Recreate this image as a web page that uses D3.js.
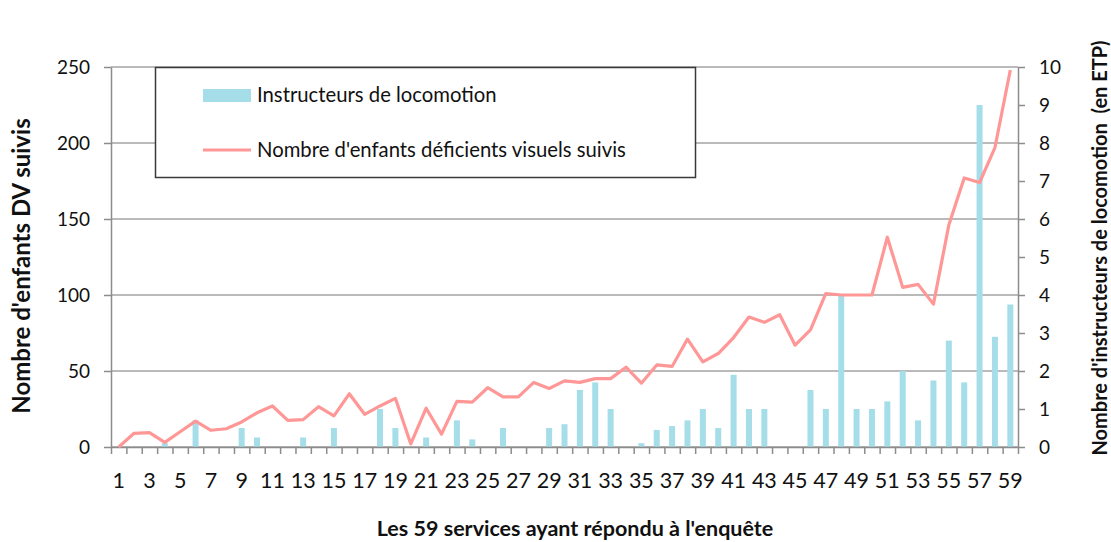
<!DOCTYPE html>
<html>
<meta charset="utf-8">
<head>
	<script src="https://d3js.org/d3.v7.min.js"></script>
	<style>
		body { margin: 0; background: #fff; }
		svg text { font-family: Lato, "Open Sans", sans-serif; fill: #111; }
		.grid line { stroke: #a3a3a3; stroke-width: 1.5px; }
		.axis path, .axis line { stroke: #8c8c8c; stroke-width: 1.5px; }
		.axis text { font-size: 19px; }
		.xlabels text { font-size: 21.5px; }
		.title { font-weight: bold; }
		.legend text { font-size: 20.3px; }
	</style>
</head>
<body>
<script>
	// the 59 services (x categories)
	var services = ["1","2","3","4","5","6","7","8","9","10","11","12","13","14","15","16","17","18","19","20",
		"21","22","23","24","25","26","27","28","29","30","31","32","33","34","35","36","37","38","39","40",
		"41","42","43","44","45","46","47","48","49","50","51","52","53","54","55","56","57","58","59"];

	// Nombre d'enfants DV suivis (left axis, line)
	var enfants = [0, 9, 9.5, 3, 10, 17, 11, 12, 16.5, 22.5,
		27, 17.5, 18, 26.5, 20.5, 35, 21.5, 27, 32, 2,
		25.5, 8.5, 30, 29.5, 39, 33, 33, 42.5, 38.5, 43.5,
		42.5, 45, 45, 52.5, 42, 54, 53, 71, 56, 61.5,
		72, 85.5, 82, 87, 67, 77, 101, 100, 100, 100,
		138, 105, 107, 94, 146, 177, 174, 197, 248];

	// Instructeurs de locomotion en ETP (right axis, bars)
	var instructeurs = [0, 0, 0, 0.1, 0, 0.7, 0, 0, 0.5, 0.25,
		0, 0, 0.25, 0, 0.5, 0, 0, 1, 0.5, 0,
		0.25, 0, 0.7, 0.2, 0, 0.5, 0, 0, 0.5, 0.6,
		1.5, 1.7, 1, 0, 0.1, 0.45, 0.55, 0.7, 1, 0.5,
		1.9, 1, 1, 0, 0, 1.5, 1, 4, 1, 1,
		1.2, 2, 0.7, 1.75, 2.8, 1.7, 9, 2.9, 3.75];

	var leftTicks = [0, 50, 100, 150, 200, 250];
	var rightTicks = [0, 1, 2, 3, 4, 5, 6, 7, 8, 9, 10];

	var width = 1111,
		height = 542;
	var plot = {left: 111, right: 1018, top: 67, bottom: 447};

	var svg = d3.select("body").append("svg")
		.attr("width", width)
		.attr("height", height);

	var x = d3.scaleBand()
		.domain(services)
		.range([plot.left, plot.right]);

	// used only for the tick marks between categories
	var xEdges = d3.scaleLinear()
		.domain([0, services.length])
		.range([plot.left, plot.right]);

	var yLeft = d3.scaleLinear()
		.domain([0, 250])
		.range([plot.bottom, plot.top]);

	var yRight = d3.scaleLinear()
		.domain([0, 10])
		.range([plot.bottom, plot.top]);

	// gridlines
	svg.append("g")
		.attr("class", "grid")
		.selectAll("line")
		.data(leftTicks).enter()
		.append("line")
		.attr("x1", plot.left)
		.attr("x2", plot.right)
		.attr("y1", function(d) { return yLeft(d); })
		.attr("y2", function(d) { return yLeft(d); });

	// bars
	var barW = 6;
	svg.append("g")
		.selectAll("rect")
		.data(instructeurs).enter()
		.append("rect")
		.attr("x", function(d, i) { return x(services[i]) + x.bandwidth() / 2 - barW / 2; })
		.attr("y", function(d) { return yRight(d); })
		.attr("width", barW)
		.attr("height", function(d) { return plot.bottom - yRight(d); })
		.attr("fill", "#a5dde9");

	// left axis
	svg.append("g")
		.attr("class", "axis")
		.attr("transform", "translate(" + plot.left + ",0)")
		.call(d3.axisLeft(yLeft).tickValues(leftTicks).tickSize(7).tickPadding(14).tickSizeOuter(0));

	// right axis
	svg.append("g")
		.attr("class", "axis")
		.attr("transform", "translate(" + plot.right + ",0)")
		.call(d3.axisRight(yRight).tickValues(rightTicks).tickSize(7).tickPadding(14).tickSizeOuter(0));

	// x axis tick marks at category edges
	svg.append("g")
		.attr("class", "axis")
		.attr("transform", "translate(0," + plot.bottom + ")")
		.call(d3.axisBottom(xEdges).tickValues(d3.range(0, services.length + 1))
			.tickSize(7).tickSizeOuter(0).tickFormat(""));

	// x labels, every other service
	var gx = svg.append("g")
		.attr("class", "axis xlabels")
		.attr("transform", "translate(0," + plot.bottom + ")")
		.call(d3.axisBottom(x).tickSize(0).tickPadding(26)
			.tickFormat(function(d, i) { return i % 2 === 0 ? d : ""; }));
	gx.select(".domain").remove();

	// line
	var line = d3.line()
		.x(function(d, i) { return x(services[i]) + x.bandwidth() / 2; })
		.y(function(d) { return yLeft(d); });

	svg.append("path")
		.datum(enfants)
		.attr("d", line)
		.attr("fill", "none")
		.attr("stroke", "#ff9797")
		.attr("stroke-width", 3.2)
		.attr("stroke-linejoin", "round");

	// legend
	var lg = svg.append("g").attr("class", "legend");
	lg.append("rect")
		.attr("x", 155.5).attr("y", 67.5)
		.attr("width", 540).attr("height", 110)
		.attr("fill", "#fff")
		.attr("stroke", "#3a3a3a")
		.attr("stroke-width", 1.5);
	lg.append("rect")
		.attr("x", 203).attr("y", 89)
		.attr("width", 48).attr("height", 13)
		.attr("fill", "#a5dde9");
	lg.append("text")
		.attr("x", 257).attr("y", 95)
		.attr("dy", "0.35em")
		.text("Instructeurs de locomotion");
	lg.append("line")
		.attr("x1", 203).attr("x2", 251)
		.attr("y1", 150).attr("y2", 150)
		.attr("stroke", "#ff9797")
		.attr("stroke-width", 3.2);
	lg.append("text")
		.attr("x", 257).attr("y", 150)
		.attr("dy", "0.35em")
		.text("Nombre d'enfants déficients visuels suivis");

	// axis titles
	svg.append("text")
		.attr("class", "title")
		.attr("text-anchor", "middle")
		.attr("transform", "translate(22,266) rotate(-90)")
		.attr("dy", "0.35em")
		.style("font-size", "24px")
		.text("Nombre d'enfants DV suivis");

	svg.append("text")
		.attr("class", "title")
		.attr("text-anchor", "middle")
		.attr("transform", "translate(1100,248) rotate(-90)")
		.attr("dy", "0.35em")
		.style("font-size", "20px")
		.style("white-space", "pre")
		.text("Nombre d'instructeurs de locomotion  (en ETP)");

	svg.append("text")
		.attr("class", "title")
		.attr("text-anchor", "middle")
		.attr("x", 575).attr("y", 528)
		.attr("dy", "0.35em")
		.style("font-size", "21.5px")
		.text("Les 59 services ayant répondu à l'enquête");
</script>
</body>
</html>
